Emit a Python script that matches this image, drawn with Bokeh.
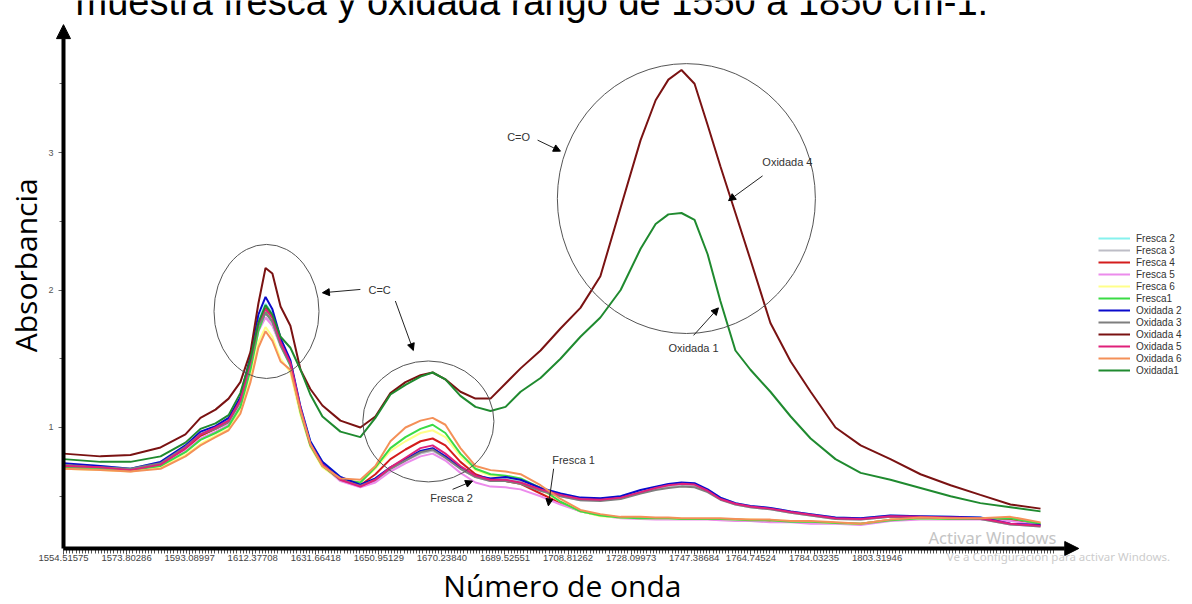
import numpy as np
from bokeh.plotting import figure
from bokeh.models import Range1d, FixedTicker, PrintfTickFormatter, Label, Arrow, NormalHead
from bokeh.embed import file_html
from bokeh.resources import INLINE

# Wavenumber grid (cm-1) shared by every spectrum
wavenumber = [1554.5, 1565.8, 1575.0, 1584.2, 1591.8, 1596.4, 1601.0, 1605.0, 1608.6, 1611.7,
              1614.1, 1616.3, 1618.4, 1620.9, 1623.9, 1627.0, 1630.0, 1633.7, 1639.2, 1645.3,
              1649.9, 1654.5, 1659.1, 1663.7, 1667.4, 1671.3, 1675.9, 1680.5, 1685.1, 1689.7,
              1694.3, 1700.4, 1706.5, 1712.6, 1718.7, 1724.9, 1731.0, 1735.6, 1739.5, 1743.5,
              1747.5, 1751.5, 1755.4, 1760.0, 1764.6, 1770.7, 1776.9, 1783.0, 1790.6, 1798.3,
              1807.4, 1816.6, 1825.8, 1834.9, 1844.1, 1853.3]

fresca_2 = [0.73, 0.72, 0.70, 0.75, 0.86, 0.96, 1.00, 1.06, 1.21, 1.50,
            1.78, 1.90, 1.83, 1.64, 1.48, 1.15, 0.90, 0.75, 0.64, 0.58,
            0.63, 0.71, 0.77, 0.83, 0.84, 0.79, 0.71, 0.65, 0.63, 0.63,
            0.61, 0.56, 0.52, 0.49, 0.48, 0.50, 0.54, 0.565, 0.585, 0.595,
            0.59, 0.545, 0.49, 0.45, 0.43, 0.415, 0.39, 0.37, 0.345, 0.34,
            0.36, 0.355, 0.35, 0.345, 0.30, 0.29]
fresca_3 = [0.72, 0.71, 0.69, 0.74, 0.85, 0.94, 0.99, 1.04, 1.18, 1.45,
            1.72, 1.80, 1.75, 1.59, 1.45, 1.12, 0.87, 0.72, 0.62, 0.57,
            0.61, 0.70, 0.76, 0.81, 0.83, 0.78, 0.70, 0.64, 0.61, 0.61,
            0.59, 0.54, 0.50, 0.47, 0.47, 0.485, 0.525, 0.55, 0.57, 0.58,
            0.575, 0.535, 0.48, 0.44, 0.42, 0.405, 0.38, 0.36, 0.335, 0.33,
            0.35, 0.345, 0.34, 0.335, 0.295, 0.28]
fresca_4 = [0.72, 0.71, 0.69, 0.73, 0.84, 0.94, 0.99, 1.04, 1.19, 1.48,
            1.76, 1.87, 1.80, 1.62, 1.47, 1.13, 0.88, 0.73, 0.62, 0.58,
            0.66, 0.77, 0.84, 0.90, 0.92, 0.87, 0.75, 0.66, 0.62, 0.61,
            0.59, 0.52, 0.45, 0.39, 0.36, 0.345, 0.34, 0.335, 0.335, 0.335,
            0.335, 0.335, 0.33, 0.33, 0.325, 0.32, 0.315, 0.31, 0.305, 0.30,
            0.33, 0.34, 0.335, 0.335, 0.33, 0.30]
fresca_5 = [0.71, 0.70, 0.68, 0.72, 0.83, 0.92, 0.97, 1.02, 1.16, 1.43,
            1.70, 1.80, 1.74, 1.60, 1.46, 1.12, 0.87, 0.72, 0.61, 0.565,
            0.60, 0.68, 0.74, 0.79, 0.81, 0.76, 0.67, 0.60, 0.57, 0.565,
            0.55, 0.50, 0.44, 0.39, 0.36, 0.34, 0.335, 0.33, 0.33, 0.33,
            0.33, 0.33, 0.325, 0.32, 0.32, 0.31, 0.31, 0.30, 0.30, 0.29,
            0.32, 0.33, 0.33, 0.33, 0.32, 0.29]
fresca_6 = [0.70, 0.69, 0.68, 0.71, 0.80, 0.88, 0.94, 0.99, 1.12, 1.36,
            1.62, 1.73, 1.66, 1.50, 1.40, 1.09, 0.86, 0.71, 0.62, 0.60,
            0.70, 0.83, 0.90, 0.96, 0.98, 0.93, 0.79, 0.69, 0.65, 0.64,
            0.62, 0.55, 0.46, 0.39, 0.355, 0.345, 0.34, 0.34, 0.34, 0.335,
            0.335, 0.335, 0.335, 0.33, 0.33, 0.325, 0.32, 0.315, 0.305, 0.30,
            0.33, 0.34, 0.335, 0.335, 0.345, 0.30]
fresca_1 = [0.71, 0.70, 0.69, 0.72, 0.82, 0.91, 0.96, 1.01, 1.15, 1.42,
            1.70, 1.84, 1.77, 1.60, 1.45, 1.11, 0.87, 0.72, 0.62, 0.60,
            0.71, 0.85, 0.93, 0.99, 1.02, 0.96, 0.81, 0.70, 0.66, 0.65,
            0.63, 0.56, 0.46, 0.39, 0.36, 0.345, 0.34, 0.34, 0.34, 0.335,
            0.335, 0.335, 0.335, 0.33, 0.325, 0.325, 0.315, 0.315, 0.305, 0.30,
            0.325, 0.34, 0.335, 0.335, 0.34, 0.30]
oxidada_2 = [0.74, 0.72, 0.70, 0.75, 0.87, 0.97, 1.01, 1.07, 1.22, 1.52,
             1.82, 1.95, 1.86, 1.65, 1.49, 1.15, 0.90, 0.75, 0.64, 0.585,
             0.63, 0.71, 0.77, 0.83, 0.85, 0.79, 0.71, 0.65, 0.63, 0.64,
             0.62, 0.56, 0.52, 0.49, 0.485, 0.50, 0.545, 0.57, 0.59, 0.60,
             0.595, 0.55, 0.49, 0.45, 0.43, 0.415, 0.39, 0.37, 0.345, 0.34,
             0.36, 0.355, 0.35, 0.345, 0.30, 0.29]
oxidada_3 = [0.73, 0.71, 0.70, 0.74, 0.86, 0.95, 0.99, 1.04, 1.19, 1.47,
             1.74, 1.83, 1.77, 1.60, 1.46, 1.13, 0.88, 0.73, 0.62, 0.575,
             0.62, 0.70, 0.76, 0.82, 0.84, 0.78, 0.70, 0.64, 0.61, 0.61,
             0.59, 0.54, 0.50, 0.47, 0.465, 0.48, 0.52, 0.545, 0.56, 0.57,
             0.565, 0.53, 0.475, 0.44, 0.42, 0.405, 0.38, 0.36, 0.335, 0.33,
             0.35, 0.345, 0.34, 0.335, 0.295, 0.28]
oxidada_4 = [0.81, 0.79, 0.80, 0.855, 0.95, 1.07, 1.13, 1.21, 1.33, 1.55,
             1.90, 2.16, 2.12, 1.88, 1.74, 1.42, 1.28, 1.16, 1.05, 1.00,
             1.08, 1.25, 1.33, 1.38, 1.40, 1.35, 1.26, 1.21, 1.21, 1.32,
             1.43, 1.56, 1.72, 1.87, 2.10, 2.60, 3.09, 3.38, 3.53, 3.60,
             3.50, 3.20, 2.90, 2.56, 2.22, 1.76, 1.48, 1.26, 1.00, 0.87,
             0.77, 0.66, 0.58, 0.51, 0.44, 0.41]
oxidada_5 = [0.72, 0.71, 0.69, 0.73, 0.85, 0.95, 1.00, 1.05, 1.20, 1.48,
             1.76, 1.86, 1.80, 1.62, 1.47, 1.14, 0.88, 0.73, 0.62, 0.57,
             0.62, 0.71, 0.78, 0.85, 0.87, 0.81, 0.72, 0.65, 0.62, 0.62,
             0.60, 0.55, 0.51, 0.48, 0.475, 0.49, 0.53, 0.56, 0.58, 0.59,
             0.585, 0.54, 0.48, 0.445, 0.425, 0.41, 0.385, 0.365, 0.34, 0.335,
             0.355, 0.35, 0.345, 0.34, 0.30, 0.285]
oxidada_6 = [0.70, 0.69, 0.68, 0.70, 0.79, 0.87, 0.93, 0.98, 1.10, 1.33,
             1.58, 1.70, 1.63, 1.48, 1.42, 1.12, 0.88, 0.72, 0.63, 0.62,
             0.72, 0.90, 1.00, 1.05, 1.07, 1.02, 0.85, 0.72, 0.69, 0.68,
             0.66, 0.58, 0.48, 0.40, 0.37, 0.35, 0.35, 0.345, 0.345, 0.34,
             0.34, 0.34, 0.34, 0.335, 0.33, 0.33, 0.32, 0.32, 0.31, 0.30,
             0.33, 0.345, 0.34, 0.34, 0.35, 0.31]
oxidada_1 = [0.77, 0.75, 0.75, 0.79, 0.89, 0.99, 1.03, 1.09, 1.25, 1.50,
             1.76, 1.89, 1.82, 1.66, 1.58, 1.42, 1.24, 1.08, 0.97, 0.93,
             1.07, 1.24, 1.31, 1.37, 1.40, 1.35, 1.23, 1.15, 1.12, 1.15,
             1.26, 1.36, 1.50, 1.66, 1.80, 2.00, 2.30, 2.48, 2.55, 2.56,
             2.51, 2.26, 1.92, 1.56, 1.42, 1.26, 1.08, 0.92, 0.77, 0.67,
             0.62, 0.56, 0.50, 0.45, 0.42, 0.39]

series_names = ["Fresca 2", "Fresca 3", "Fresca 4", "Fresca 5", "Fresca 6", "Fresca1",
                "Oxidada 2", "Oxidada 3", "Oxidada 4", "Oxidada 5", "Oxidada 6", "Oxidada1"]
series_values = [fresca_2, fresca_3, fresca_4, fresca_5, fresca_6, fresca_1,
                 oxidada_2, oxidada_3, oxidada_4, oxidada_5, oxidada_6, oxidada_1]
series_colors = ["#86F2EE", "#BDBDC6", "#D41C1C", "#EC8CEC", "#FFFF8A", "#3ADB45",
                 "#0A0ACC", "#7E7E7E", "#7A1212", "#E0207A", "#F49058", "#1F8A2F"]

# x-axis tick labels (wavenumbers of the sampled points)
x_tick_values = [1554.51575, 1573.80286, 1593.08997, 1612.37708, 1631.66418, 1650.95129,
                 1670.23840, 1689.52551, 1708.81262, 1728.09973, 1747.38684, 1764.74524,
                 1784.03235, 1803.31946]
y_tick_values = [1, 2, 3]

X0 = 1554.51575   # origin of the drawn axes
Y0 = 0.12

# the plotting frame spans the whole canvas; both axes are pinned at the origin
p = figure(width=1192, height=604, output_backend="svg", toolbar_location=None,
           x_range=Range1d(1535.25, 1899.78), y_range=Range1d(-0.2873, 4.1055),
           min_border_left=0, min_border_right=0, min_border_top=0, min_border_bottom=0)
p.grid.visible = False
p.outline_line_color = None
p.background_fill_color = "white"
p.border_fill_color = "white"

# x axis
step = 1.9287110 / 2
p.xaxis.fixed_location = Y0
p.xaxis.ticker = FixedTicker(ticks=x_tick_values,
                             minor_ticks=list(np.arange(X0, 1858.0, step)))
p.xaxis.formatter = PrintfTickFormatter(format="%.5f")
p.xaxis.axis_line_color = None
p.xaxis.major_tick_line_color = "#444444"
p.xaxis.major_tick_out = 6
p.xaxis.major_tick_in = 0
p.xaxis.minor_tick_line_color = "#555555"
p.xaxis.minor_tick_out = 5
p.xaxis.minor_tick_in = 0
p.xaxis.major_label_standoff = 1
p.xaxis.major_label_text_font = "Liberation Sans"
p.xaxis.major_label_text_font_size = "9.5px"
p.xaxis.major_label_text_color = "#444444"

# y axis
p.yaxis.fixed_location = X0
p.yaxis.ticker = FixedTicker(ticks=y_tick_values, minor_ticks=[0.5, 1.5, 2.5, 3.5])
p.yaxis.axis_line_color = None
p.yaxis.major_tick_line_color = "#666666"
p.yaxis.major_tick_out = 5
p.yaxis.major_tick_in = 0
p.yaxis.minor_tick_line_color = "#666666"
p.yaxis.minor_tick_out = 4
p.yaxis.minor_tick_in = 0
p.yaxis.major_label_standoff = 5
p.yaxis.major_label_text_font = "Liberation Sans"
p.yaxis.major_label_text_font_size = "9px"
p.yaxis.major_label_text_color = "#555555"

# thick axis lines with arrow heads
p.add_layout(Arrow(end=NormalHead(size=14, fill_color="black", line_color="black"),
                   x_start=X0, y_start=Y0, x_end=1865.0, y_end=Y0,
                   line_width=4, line_color="black"))
p.add_layout(Arrow(end=NormalHead(size=14, fill_color="black", line_color="black"),
                   x_start=X0, y_start=Y0, x_end=X0, y_end=3.93,
                   line_width=4, line_color="black"))

# spectra
for name, vals, col in zip(series_names, series_values, series_colors):
    p.line(wavenumber, vals, line_color=col, line_width=2, legend_label=name)

lg = p.legend[0]
lg.location = (1098, 228)
lg.padding = 0
lg.margin = 0
lg.spacing = 0
lg.glyph_width = 32
lg.glyph_height = 12
lg.label_height = 12
lg.label_standoff = 6
lg.label_text_font = "Liberation Sans"
lg.label_text_font_size = "10px"
lg.label_text_color = "#333333"
lg.border_line_color = None
lg.background_fill_alpha = 0

# band highlight circles
p.ellipse(x=[1616.6, 1666.1, 1745.0], y=[1.844, 1.044, 2.665],
          width=[32.1, 40.1, 78.9], height=[0.975, 0.88, 1.964],
          fill_color=None, line_color="#555555", line_width=1)

# callouts
def callout(text, tx, ty, xs, ys, xe, ye):
    p.add_layout(Label(x=tx, y=ty, text=text, text_font="Liberation Sans",
                       text_font_size="11px", text_color="#333333",
                       text_align="center", text_baseline="middle"))
    p.add_layout(Arrow(end=NormalHead(size=7, fill_color="black", line_color="black"),
                       x_start=xs, y_start=ys, x_end=xe, y_end=ye,
                       line_width=1, line_color="#222222"))

callout("C=C", 1651.2, 2.0, 1645.3, 2.004, 1633.7, 1.98)
p.add_layout(Arrow(end=NormalHead(size=7, fill_color="black", line_color="black"),
                   x_start=1656.0, y_start=1.92, x_end=1661.5, y_end=1.56,
                   line_width=1, line_color="#222222"))
callout("C=O", 1693.7, 3.11, 1699.5, 3.09, 1706.5, 3.01)
callout("Oxidada 4", 1775.9, 2.93, 1768.3, 2.83, 1757.9, 2.65)
callout("Oxidada 1", 1747.2, 1.575, 1747.2, 1.67, 1754.8, 1.87)
callout("Fresca 1", 1710.5, 0.76, 1704.4, 0.70, 1702.8, 0.43)
callout("Fresca 2", 1673.2, 0.49, 1673.5, 0.55, 1679.6, 0.61)

# titles
p.add_layout(Label(x=1558.2, y=4.098,
                   text="muestra fresca y oxidada rango de 1550 a 1850 cm-1.",
                   text_font="Liberation Sans", text_font_size="38px", text_color="black",
                   text_align="left", text_baseline="alphabetic"))
p.add_layout(Label(x=1542.9, y=2.18, text="Absorbancia", angle=np.pi / 2,
                   text_font="Open Sans", text_font_size="30px", text_color="black",
                   text_align="center", text_baseline="middle"))
p.add_layout(Label(x=1707.1, y=-0.149, text="Número de onda",
                   text_font="Open Sans", text_font_size="30px", text_color="black",
                   text_align="center", text_baseline="middle"))

# activation notice
p.add_layout(Label(x=1838.6, y=0.2, text="Activar Windows", text_font="Noto Sans",
                   text_font_size="16.5px", text_color="#C4C4C4",
                   text_align="center", text_baseline="middle"))
p.add_layout(Label(x=1858.8, y=0.062, text="Ve a Configuración para activar Windows.",
                   text_font="Noto Sans", text_font_size="11.5px", text_color="#CCCCCC",
                   text_align="center", text_baseline="middle"))

open("out.html", "w").write(file_html(p, INLINE))
